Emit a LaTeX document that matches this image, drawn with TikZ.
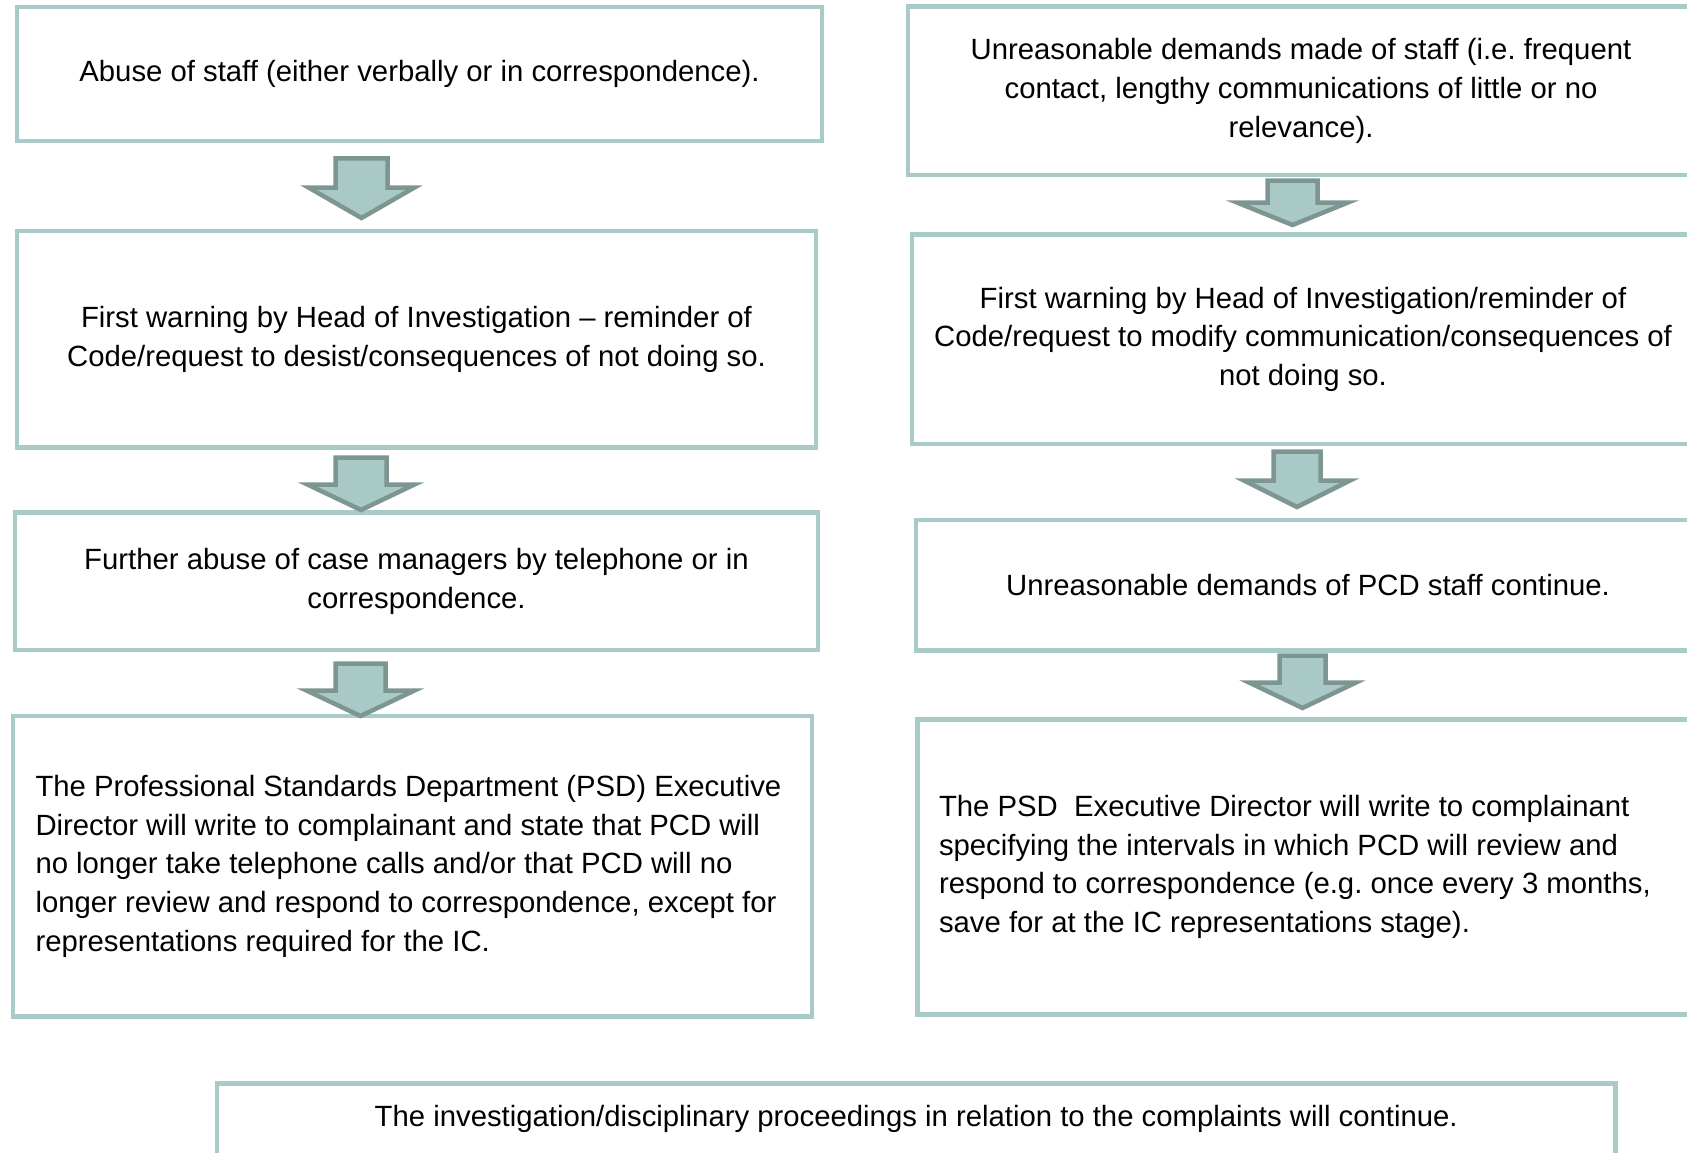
\documentclass[tikz,border=0pt]{standalone}
\usepackage{fontspec}
\setmainfont{Liberation Sans}
\frenchspacing
\definecolor{boxline}{RGB}{169,203,199}
\definecolor{arrfill}{RGB}{168,201,197}
\definecolor{arrline}{RGB}{125,150,146}
\begin{document}
\begin{tikzpicture}[x=1pt,y=-1pt,
  boxsty/.style={draw=boxline,line width=4.5pt,rectangle,inner sep=0pt,
    font=\fontsize{29.3}{38.7}\selectfont\frenchspacing,align=center},
  leftbox/.style={boxsty,align=flush left},
  arrsty/.style={fill=arrfill,draw=arrline,line width=4.5pt,line join=miter},
  pics/blockarrow/.style args={#1/#2/#3/#4/#5}{code={
    \path[arrsty] (-#1,#3) -- (#1,#3) -- (#1,#4) -- (#2,#4) -- (0,#5)
      -- (-#2,#4) -- (-#1,#4) -- cycle;}}]
\useasboundingbox (0,0) rectangle (1687,1153);
\clip (0,0) rectangle (1687,1153);
% left column
\node[boxsty,minimum width=805pt,minimum height=134pt] (b1) at (419.5,74)
  {Abuse of staff (either verbally or in correspondence).};
\node[boxsty,minimum width=799pt,minimum height=216.5pt] (b2) at (416.5,339.25)
  {First warning by Head of Investigation – reminder of\\Code/request to desist/consequences of not doing so.};
\node[boxsty,minimum width=803pt,minimum height=137.5pt] (b3) at (416.5,581.25)
  {Further abuse of case managers by telephone or in\\correspondence.};
\node[leftbox,minimum width=799pt,minimum height=300.5pt,text width=754pt] (b4) at (412.5,866.25)
  {The Professional Standards Department (PSD) Executive\\Director will write to complainant and state that PCD will\\no longer take telephone calls and/or that PCD will no\\longer review and respond to correspondence, except for\\representations required for the IC.};
% right column
\node[boxsty,minimum width=786pt,minimum height=168.5pt] (r1) at (1301,90.75)
  {Unreasonable demands made of staff (i.e. frequent\\contact, lengthy communications of little or no\\relevance).};
\node[boxsty,minimum width=782pt,minimum height=209.5pt] (r2) at (1303,339.25)
  {First warning by Head of Investigation/reminder of\\Code/request to modify communication/consequences of\\not doing so.};
\node[boxsty,minimum width=784pt,minimum height=130.5pt] (r3) at (1308,585.25)
  {Unreasonable demands of PCD staff continue.};
\node[leftbox,minimum width=782.5pt,minimum height=295pt,text width=739.5pt] (r4) at (1308.75,867)
  {The PSD\ \ Executive Director will write to complainant\\specifying the intervals in which PCD will review and\\respond to correspondence (e.g. once every 3 months,\\save for at the IC representations stage).};
% bottom
\node[boxsty,minimum width=1398.5pt,minimum height=71.5pt] (bb) at (916.25,1119.25)
  {The investigation/disciplinary proceedings in relation to the complaints will continue.};
% arrows
\pic (a1) at (361.5,0) {blockarrow={26/53/158.5/187.5/218}};
\pic (a2) at (361,0) {blockarrow={25.5/53.5/457.5/484.5/510}};
\pic (a3) at (360.5,0) {blockarrow={25/54/663.5/690.5/716}};
\pic (ra1) at (1292.5,0) {blockarrow={25/55.5/180.5/202.5/225}};
\pic (ra2) at (1297,0) {blockarrow={23.5/53/451.5/480.5/507}};
\pic (ra3) at (1302.5,0) {blockarrow={23/53.5/655.5/682.5/708}};
\end{tikzpicture}
\end{document}
